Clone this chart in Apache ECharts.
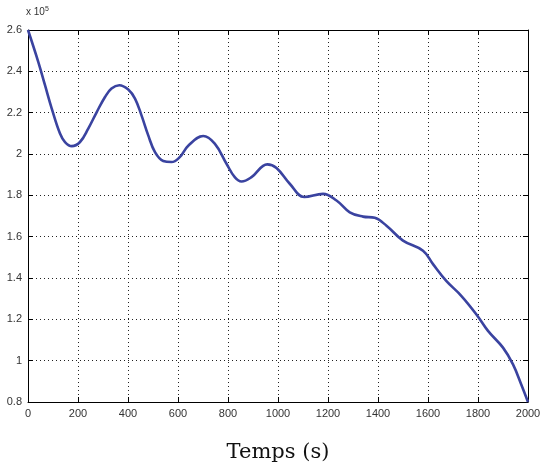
<!DOCTYPE html>
<html><head><meta charset="utf-8">
<script src="https://cdn.jsdelivr.net/npm/echarts@6/dist/echarts.min.js"></script>
<style>html,body{margin:0;padding:0;background:#fff}#c{width:541px;height:465px}</style>
</head><body><div id="c"></div>
<script>
// time (s)
const timeS = [0,41,68,95,128,148,175,208,241,275,308,334,365,401,428,454,481,508,541,574,607,641,701,747,794,827,854,894,957,994,1047,1105,1180,1234,1287,1340,1387,1434,1500,1580,1620,1673,1733,1793,1840,1900,1940,1973,2000];
// value (x 10^5)
const valueE5 = [2.6,2.446,2.333,2.22,2.099,2.058,2.038,2.058,2.123,2.203,2.276,2.317,2.333,2.312,2.268,2.187,2.09,2.009,1.966,1.961,1.985,2.04,2.087,2.05,1.953,1.888,1.867,1.888,1.95,1.932,1.856,1.792,1.807,1.775,1.718,1.697,1.691,1.653,1.581,1.532,1.467,1.386,1.314,1.225,1.144,1.063,0.982,0.885,0.80];
const xTicks = [0,200,400,600,800,1000,1200,1400,1600,1800,2000];
const yTicks = [0.8,1,1.2,1.4,1.6,1.8,2,2.2,2.4,2.6];

const chart = echarts.init(document.getElementById('c'));
const lab = {color:'#333', fontFamily:'Liberation Sans, Arial, sans-serif', fontSize:11};
const split = {show:true, lineStyle:{color:'#222', type:[1,3], width:1}};
const axLine = {show:true, onZero:false, lineStyle:{color:'#000', width:1}};
const tick = {show:true, inside:true, length:5, lineStyle:{color:'#000'}};
chart.setOption({
  animation:false,
  grid:{left:28, right:13, top:30, bottom:63, containLabel:false, outerBoundsMode:'none'},
  xAxis:[
    {type:'value', min:xTicks[0], max:xTicks[xTicks.length-1], interval:200, position:'bottom',
     axisLine:axLine, axisTick:tick, splitLine:split,
     axisLabel:Object.assign({margin:6, formatter:v=>String(v)}, lab),
     name:'Temps (s)', nameLocation:'middle', nameGap:40,
     nameTextStyle:{fontFamily:'DejaVu Serif, Liberation Serif, serif', fontSize:21, color:'#111'}},
    {type:'value', min:0, max:2000, interval:200, position:'top',
     axisLine:axLine, axisTick:tick, splitLine:{show:false}, axisLabel:{show:false}}
  ],
  yAxis:[
    {type:'value', min:yTicks[0], max:yTicks[yTicks.length-1], interval:0.2, position:'left',
     axisLine:axLine, axisTick:tick, splitLine:split,
     axisLabel:Object.assign({margin:6, formatter:v=>String(Math.round(v*10)/10)}, lab)},
    {type:'value', min:0.8, max:2.6, interval:0.2, position:'right',
     axisLine:axLine, axisTick:tick, splitLine:{show:false}, axisLabel:{show:false}}
  ],
  graphic:[{type:'text', left:26, top:6, style:{
    text:'x 10{s|5}', rich:{s:{fontSize:7, verticalAlign:'top', padding:[0,0,6,0]}},
    fontSize:10, fontFamily:'Liberation Sans, Arial, sans-serif', fill:'#333'}}],
  series:[{type:'line', smooth:0.4, symbol:'none',
    data: timeS.map((t,i)=>[t, valueE5[i]]),
    lineStyle:{color:'#3a43a0', width:2.6}}]
});
</script></body></html>
